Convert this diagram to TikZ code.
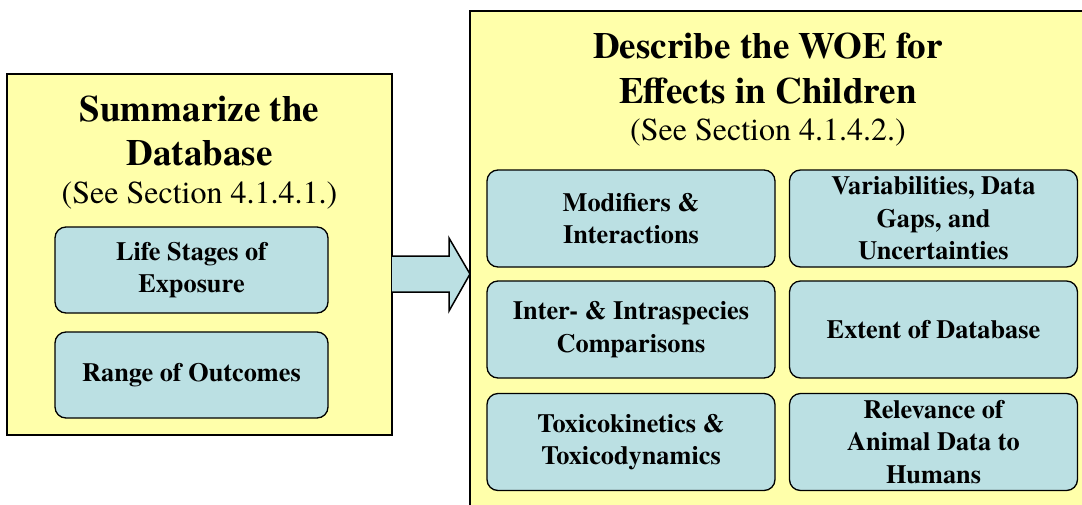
\documentclass[tikz,border=0pt]{standalone}
\usepackage{fontspec}
\setmainfont{TeX Gyre Termes}
\definecolor{pale}{RGB}{255,255,170}
\definecolor{boxblue}{RGB}{187,224,227}
\begin{document}
\begin{tikzpicture}[x=1pt,y=-1pt,
  panel/.style={draw=black, line width=1.5pt, fill=pale, inner sep=0pt, outer sep=0pt},
  item/.style={draw=black, line width=1.3pt, fill=boxblue, rounded corners=11pt,
    inner sep=0pt, outer sep=0pt, align=center,
    font=\fontsize{26.3}{32.5}\selectfont\bfseries},
  ltitem/.style={item, minimum width=273pt, minimum height=86pt},
  rtitem/.style={item, minimum width=288pt, minimum height=97pt},
  bigtitle/.style={align=center, font=\fontsize{37}{44.5}\selectfont\bfseries},
  subtitle/.style={anchor=base, font=\fontsize{32}{38}\selectfont},
  blockarrow/.style={draw=black, line width=1.5pt, fill=boxblue, line join=miter}
]
\useasboundingbox (0,0) rectangle (1082,504);

% panels
\node[panel, minimum width=385pt, minimum height=361pt] (left) at (199.5,254.5) {};
\node[panel, minimum width=630pt, minimum height=509pt] (right) at (785,265.5) {};

% left panel content
\node[bigtitle] (ltitle) at (199.5,131) {Summarize the\\Database};
\node[subtitle] (lsub) at (199.5,203) {(See Section 4.1.4.1.)};
\node[ltitem] (life) at (191.5,270) {Life Stages of\\Exposure};
\node[ltitem] (range) at (191.5,375) {Range of Outcomes};

% right panel content
\node[bigtitle] (rtitle) at (768,68.5) {Describe the WOE for\\Effects in Children};
\node[subtitle] (rsub) at (768,140) {(See Section 4.1.4.2.)};
\node[rtitem] (mod) at (631,218.5) {Modifiers \&\\Interactions};
\node[rtitem] (var) at (933.5,218.5) {Variabilities, Data\\Gaps, and\\Uncertainties};
\node[rtitem] (inter) at (631,329.5) {Inter- \& Intraspecies\\Comparisons};
\node[rtitem] (extent) at (933.5,329.5) {Extent of Database};
\node[rtitem] (tox) at (631,442) {Toxicokinetics \&\\Toxicodynamics};
\node[rtitem] (rel) at (933.5,442) {Relevance of\\Animal Data to\\Humans};

% block arrow from left panel to right panel
\path[blockarrow] (left.east |- 0,256) -- (449,256) -- (449,238)
  -- (right.west |- 0,274) -- (449,311) -- (449,292) -- (left.east |- 0,292);
\end{tikzpicture}
\end{document}
